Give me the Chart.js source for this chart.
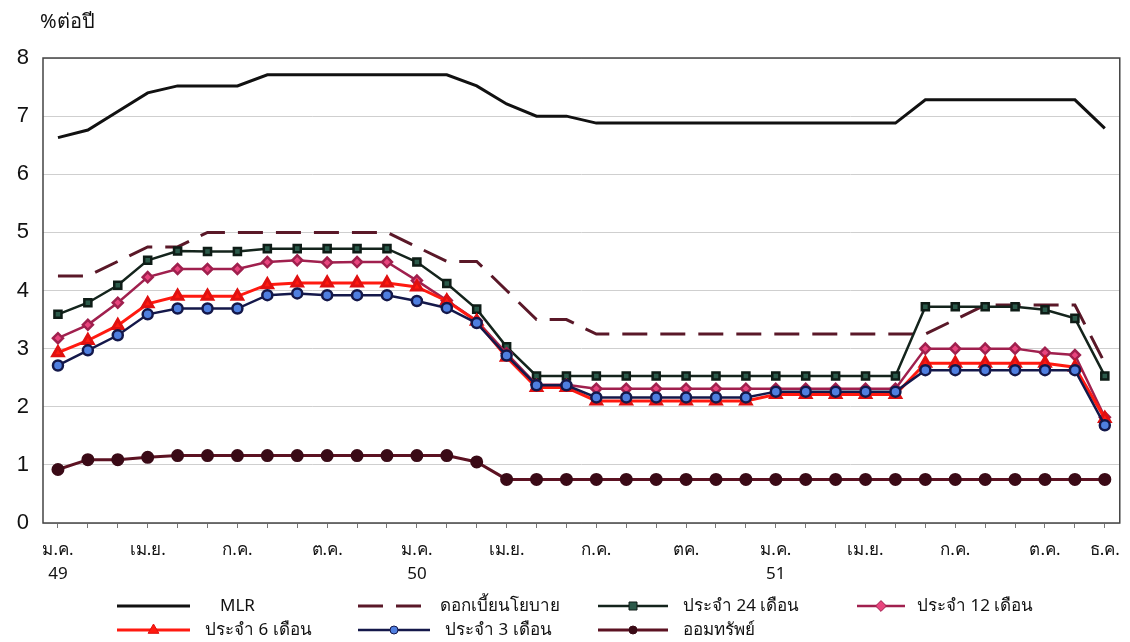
<!DOCTYPE html>
<html>
<head>
<meta charset="utf-8">
<script src="https://cdn.jsdelivr.net/npm/chart.js@4.4.1/dist/chart.umd.min.js"></script>
<style>
  html, body { margin: 0; padding: 0; background: #fff; }
</style>
</head>
<body>
<canvas id="rate-chart" width="1130" height="642"></canvas>
<script>
// เดือน ม.ค. 49 - ธ.ค. 51 (36 เดือน)
const months = [
  ["ม.ค.", "49"], "", "", "เม.ย.", "", "", "ก.ค.", "", "", "ต.ค.", "", "",
  ["ม.ค.", "50"], "", "", "เม.ย.", "", "", "ก.ค.", "", "", "ตค.", "", "",
  ["ม.ค.", "51"], "", "", "เม.ย.", "", "", "ก.ค.", "", "", "ต.ค.", "", "ธ.ค."
];

const mlr = [6.63, 6.76, 7.08, 7.40, 7.52, 7.52, 7.52, 7.71, 7.71, 7.71, 7.71, 7.71,
  7.71, 7.71, 7.52, 7.21, 7.00, 7.00, 6.88, 6.88, 6.88, 6.88, 6.88, 6.88,
  6.88, 6.88, 6.88, 6.88, 6.88, 7.28, 7.28, 7.28, 7.28, 7.28, 7.28, 6.79];

const policyRate = [4.25, 4.25, 4.5, 4.75, 4.75, 5, 5, 5, 5, 5, 5, 5,
  4.75, 4.5, 4.5, 4.0, 3.5, 3.5, 3.25, 3.25, 3.25, 3.25, 3.25, 3.25,
  3.25, 3.25, 3.25, 3.25, 3.25, 3.25, 3.5, 3.75, 3.75, 3.75, 3.75, 2.75];

const fixed24m = [3.59, 3.79, 4.09, 4.52, 4.68, 4.67, 4.67, 4.72, 4.72, 4.72, 4.72, 4.72,
  4.49, 4.12, 3.68, 3.03, 2.53, 2.53, 2.53, 2.53, 2.53, 2.53, 2.53, 2.53,
  2.53, 2.53, 2.53, 2.53, 2.53, 3.72, 3.72, 3.72, 3.72, 3.67, 3.52, 2.53];

const fixed12m = [3.18, 3.41, 3.79, 4.23, 4.37, 4.37, 4.37, 4.49, 4.52, 4.48, 4.49, 4.49,
  4.17, 3.83, 3.48, 2.92, 2.38, 2.38, 2.31, 2.31, 2.31, 2.31, 2.31, 2.31,
  2.31, 2.31, 2.31, 2.31, 2.31, 3.0, 3.0, 3.0, 3.0, 2.93, 2.89, 1.82];

const fixed6m = [2.93, 3.14, 3.40, 3.77, 3.90, 3.90, 3.90, 4.10, 4.13, 4.13, 4.13, 4.13,
  4.06, 3.82, 3.47, 2.85, 2.33, 2.33, 2.10, 2.10, 2.10, 2.10, 2.10, 2.10,
  2.21, 2.21, 2.21, 2.21, 2.21, 2.75, 2.75, 2.75, 2.75, 2.75, 2.68, 1.80];

const fixed3m = [2.71, 2.97, 3.23, 3.59, 3.69, 3.69, 3.69, 3.92, 3.95, 3.92, 3.92, 3.92,
  3.82, 3.70, 3.44, 2.88, 2.37, 2.37, 2.16, 2.16, 2.16, 2.16, 2.16, 2.16,
  2.26, 2.26, 2.26, 2.26, 2.26, 2.63, 2.63, 2.63, 2.63, 2.63, 2.63, 1.68];

const savings = [0.92, 1.09, 1.09, 1.13, 1.16, 1.16, 1.16, 1.16, 1.16, 1.16, 1.16, 1.16,
  1.16, 1.16, 1.05, 0.75, 0.75, 0.75, 0.75, 0.75, 0.75, 0.75, 0.75, 0.75,
  0.75, 0.75, 0.75, 0.75, 0.75, 0.75, 0.75, 0.75, 0.75, 0.75, 0.75, 0.75];

const yTicks = [0, 1, 2, 3, 4, 5, 6, 7, 8];

const thaiFont = "'Noto Sans', 'DejaVu Sans', sans-serif";
const numFont = "'Liberation Sans', Arial, sans-serif";

// legend slots: dataset index, line start, line end, text x, row y
const legendSlots = [
  { ds: 0, x1: 117, x2: 190, tx: 220, y: 606 },
  { ds: 1, x1: 358, x2: 430, tx: 440, y: 606 },
  { ds: 2, x1: 598, x2: 668, tx: 683, y: 606 },
  { ds: 3, x1: 857, x2: 905, tx: 917, y: 606 },
  { ds: 4, x1: 117, x2: 190, tx: 205, y: 630 },
  { ds: 5, x1: 358, x2: 430, tx: 445, y: 630 },
  { ds: 6, x1: 598, x2: 668, tx: 683, y: 630 }
];

function drawMarker(ctx, style, x, y, r, fill, stroke) {
  ctx.save();
  ctx.beginPath();
  if (style === "rect") {
    ctx.rect(x - r, y - r, 2 * r, 2 * r);
  } else if (style === "rectRot") {
    const d = r * 1.35;
    ctx.moveTo(x, y - d); ctx.lineTo(x + d, y); ctx.lineTo(x, y + d); ctx.lineTo(x - d, y);
    ctx.closePath();
  } else if (style === "triangle") {
    const h = r * 1.5;
    ctx.moveTo(x, y - h); ctx.lineTo(x + h * 0.9, y + h * 0.55); ctx.lineTo(x - h * 0.9, y + h * 0.55);
    ctx.closePath();
  } else {
    ctx.arc(x, y, r, 0, Math.PI * 2);
  }
  ctx.fillStyle = fill;
  ctx.fill();
  ctx.lineWidth = 1;
  ctx.strokeStyle = stroke;
  ctx.stroke();
  ctx.restore();
}

const extras = {
  id: "extras",
  beforeDatasetsDraw(chart) {
    const { ctx, chartArea: a } = chart;
    ctx.save();
    ctx.strokeStyle = "#444";
    ctx.lineWidth = 1.5;
    ctx.strokeRect(a.left, a.top, a.right - a.left, a.bottom - a.top);
    ctx.restore();
  },
  afterDraw(chart) {
    const ctx = chart.ctx;
    ctx.save();
    ctx.fillStyle = "#111";
    ctx.font = "20px " + thaiFont;
    ctx.textBaseline = "middle";
    ctx.fillText("%ต่อปี", 40, 22);

    ctx.font = "17px " + thaiFont;
    legendSlots.forEach(s => {
      const ds = chart.data.datasets[s.ds];
      ctx.save();
      ctx.strokeStyle = ds.borderColor;
      ctx.lineWidth = ds.borderWidth;
      ctx.setLineDash(ds.borderDash || []);
      ctx.beginPath();
      ctx.moveTo(s.x1, s.y);
      ctx.lineTo(s.x2, s.y);
      ctx.stroke();
      ctx.restore();
      if (ds.pointRadius > 0) {
        drawMarker(ctx, ds.pointStyle, (s.x1 + s.x2) / 2, s.y, 4, ds.pointBackgroundColor, ds.pointBorderColor);
      }
      ctx.fillStyle = "#111";
      ctx.fillText(ds.label, s.tx, s.y);
    });
    ctx.restore();
  }
};

new Chart(document.getElementById("rate-chart"), {
  type: "line",
  data: {
    labels: months,
    datasets: [
      { label: "MLR", data: mlr, borderColor: "#111111", borderWidth: 3,
        pointRadius: 0, order: 6 },
      { label: "ดอกเบี้ยนโยบาย", data: policyRate, borderColor: "#5a1828", borderWidth: 3,
        borderDash: [25, 13], pointRadius: 0, order: 5 },
      { label: "ประจำ 24 เดือน", data: fixed24m, borderColor: "#14241c", borderWidth: 2.5,
        pointStyle: "rect", pointRadius: 5, pointBackgroundColor: "#2b5a4a", pointBorderColor: "#0e1c16", order: 4 },
      { label: "ประจำ 12 เดือน", data: fixed12m, borderColor: "#a0204e", borderWidth: 2.5,
        pointStyle: "rectRot", pointRadius: 5, pointBackgroundColor: "#e8457e", pointBorderColor: "#a0204e", order: 3 },
      { label: "ประจำ 6 เดือน", data: fixed6m, borderColor: "#ff1a10", borderWidth: 3,
        pointStyle: "triangle", pointRadius: 6, pointBackgroundColor: "#ff1a10", pointBorderColor: "#e01010", order: 2 },
      { label: "ประจำ 3 เดือน", data: fixed3m, borderColor: "#14184a", borderWidth: 2.5,
        pointStyle: "circle", pointRadius: 5, pointBackgroundColor: "#4f7fe0", pointBorderColor: "#14184a", order: 1 },
      { label: "ออมทรัพย์", data: savings, borderColor: "#5c1222", borderWidth: 3,
        pointStyle: "circle", pointRadius: 5, pointBackgroundColor: "#3a0a16", pointBorderColor: "#3a0a16", order: 7 }
    ]
  },
  options: {
    responsive: false,
    animation: false,
    layout: { padding: { left: 0, right: 8, top: 58, bottom: 52 } },
    plugins: {
      legend: { display: false },
      tooltip: { enabled: false }
    },
    elements: { line: { tension: 0 } },
    scales: {
      x: {
        offset: true,
        grid: { drawOnChartArea: false, drawTicks: true, tickLength: 5, color: "#777" },
        border: { display: false },
        ticks: {
          autoSkip: false, maxRotation: 0, minRotation: 0, padding: 10,
          color: "#111", font: { family: thaiFont, size: 17, lineHeight: 1.4 }
        },
        afterFit(scale) { scale.height = 67; }
      },
      y: {
        min: 0, max: 8,
        afterBuildTicks(scale) { scale.ticks = yTicks.map(v => ({ value: v })); },
        grid: { color: "#cfcfcf", lineWidth: 1, drawTicks: false },
        border: { display: false },
        ticks: { padding: 14, color: "#111", font: { family: numFont, size: 22 } },
        afterFit(scale) { scale.width = 43; }
      }
    }
  },
  plugins: [extras]
});
</script>
</body>
</html>
